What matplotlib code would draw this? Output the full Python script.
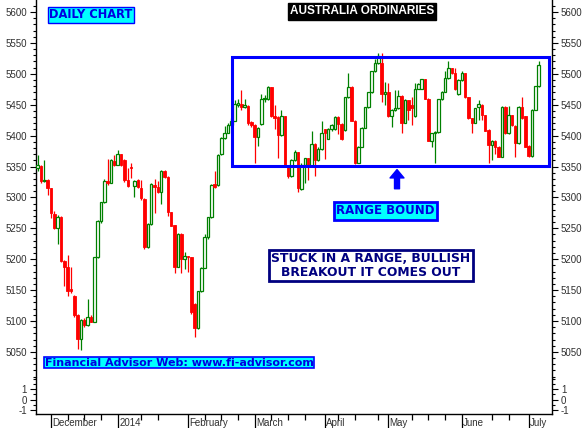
import numpy as np
import pandas as pd
import matplotlib
matplotlib.use("Agg")
import matplotlib.pyplot as plt
import matplotlib.transforms as mtransforms
from matplotlib.patches import Rectangle
from matplotlib.ticker import MultipleLocator, FixedLocator, NullFormatter

plt.rcParams['font.family'] = ['Liberation Sans', 'DejaVu Sans']
plt.rcParams['axes.unicode_minus'] = False

# ASX trading days shown on the chart
holidays = ['2013-12-25', '2013-12-26', '2014-01-01', '2014-01-27',
            '2014-04-18', '2014-04-21', '2014-04-25', '2014-06-09']
dates = pd.bdate_range('2013-11-26', '2014-07-04')
dates = dates[~dates.isin(pd.to_datetime(holidays))]

month_labels = ['December', '2014', 'February', 'March', 'April', 'May', 'June', 'July']

# daily OHLC
opens = [5347, 5351, 5326, 5328, 5315, 5273, 5250, 5269, 5197, 5187,
         5151, 5141, 5110, 5071, 5102, 5093, 5107, 5099, 5203, 5262,
         5292, 5327, 5324, 5359, 5353, 5370, 5361, 5328, 5350, 5319,
         5328, 5316, 5298, 5219, 5257, 5320, 5317, 5308, 5343, 5333,
         5276, 5255, 5188, 5241, 5200, 5205, 5203, 5128, 5088, 5148,
         5186, 5236, 5268, 5322, 5320, 5371, 5396, 5405, 5417, 5424,
         5449, 5451, 5446, 5448, 5422, 5417, 5397, 5419, 5459, 5459,
         5478, 5431, 5430, 5401, 5431, 5351, 5335, 5360, 5373, 5313,
         5353, 5363, 5351, 5387, 5360, 5378, 5410, 5395, 5410, 5410,
         5430, 5419, 5409, 5462, 5479, 5424, 5356, 5382, 5413, 5446,
         5470, 5504, 5518, 5518, 5468, 5471, 5431, 5441, 5444, 5464,
         5421, 5457, 5450, 5431, 5476, 5476, 5491, 5460, 5392, 5404,
         5406, 5459, 5471, 5493, 5509, 5501, 5467, 5490, 5501, 5462,
         5428, 5421, 5446, 5450, 5433, 5409, 5385, 5392, 5382, 5366,
         5447, 5404, 5433, 5416, 5388, 5447, 5431, 5383, 5367, 5442,
         5480]
highs = [5369, 5353, 5361, 5329, 5316, 5278, 5272, 5270, 5198, 5207,
         5188, 5142, 5111, 5103, 5105, 5136, 5110, 5204, 5263, 5293,
         5329, 5362, 5362, 5369, 5377, 5371, 5362, 5347, 5355, 5328,
         5329, 5328, 5299, 5258, 5323, 5329, 5327, 5344, 5344, 5334,
         5277, 5256, 5242, 5242, 5211, 5206, 5204, 5129, 5149, 5187,
         5240, 5269, 5321, 5343, 5370, 5397, 5415, 5421, 5428, 5458,
         5460, 5474, 5459, 5450, 5424, 5419, 5414, 5467, 5465, 5480,
         5479, 5450, 5431, 5441, 5432, 5352, 5362, 5377, 5374, 5355,
         5364, 5364, 5407, 5388, 5382, 5424, 5411, 5412, 5419, 5431,
         5431, 5420, 5463, 5501, 5480, 5425, 5383, 5414, 5447, 5471,
         5505, 5524, 5534, 5533, 5487, 5485, 5443, 5474, 5473, 5465,
         5459, 5458, 5462, 5485, 5485, 5492, 5492, 5461, 5405, 5407,
         5460, 5472, 5505, 5521, 5510, 5509, 5492, 5505, 5502, 5463,
         5429, 5445, 5457, 5451, 5434, 5410, 5393, 5393, 5383, 5448,
         5448, 5448, 5434, 5417, 5448, 5463, 5432, 5384, 5443, 5481,
         5521]
lows = [5342, 5324, 5325, 5304, 5266, 5249, 5224, 5196, 5157, 5140,
        5145, 5107, 5054, 5053, 5091, 5092, 5098, 5098, 5202, 5259,
        5291, 5320, 5323, 5351, 5352, 5351, 5325, 5317, 5331, 5301,
        5316, 5296, 5217, 5218, 5256, 5274, 5307, 5290, 5332, 5270,
        5253, 5177, 5187, 5177, 5184, 5180, 5112, 5074, 5087, 5147,
        5185, 5232, 5267, 5316, 5318, 5368, 5395, 5404, 5416, 5423,
        5446, 5441, 5444, 5417, 5414, 5356, 5383, 5417, 5455, 5457,
        5430, 5411, 5364, 5400, 5350, 5331, 5333, 5359, 5309, 5312,
        5323, 5328, 5350, 5334, 5359, 5377, 5362, 5394, 5408, 5409,
        5403, 5393, 5408, 5461, 5423, 5354, 5355, 5381, 5412, 5445,
        5469, 5503, 5516, 5455, 5450, 5430, 5414, 5440, 5443, 5404,
        5420, 5425, 5417, 5430, 5475, 5475, 5459, 5391, 5382, 5356,
        5405, 5458, 5470, 5492, 5500, 5474, 5466, 5489, 5461, 5427,
        5404, 5420, 5425, 5425, 5407, 5356, 5360, 5370, 5365, 5365,
        5403, 5403, 5416, 5365, 5387, 5427, 5381, 5366, 5366, 5441,
        5479]
closes = [5352, 5326, 5328, 5315, 5274, 5250, 5269, 5197, 5187, 5148,
          5148, 5109, 5071, 5102, 5093, 5106, 5099, 5203, 5262, 5292,
          5326, 5323, 5361, 5352, 5371, 5352, 5328, 5319, 5347, 5327,
          5317, 5299, 5219, 5257, 5322, 5317, 5308, 5343, 5333, 5276,
          5254, 5188, 5241, 5200, 5206, 5203, 5114, 5088, 5148, 5186,
          5236, 5268, 5320, 5317, 5369, 5396, 5405, 5417, 5424, 5451,
          5453, 5446, 5450, 5421, 5417, 5398, 5412, 5459, 5461, 5478,
          5432, 5428, 5401, 5431, 5351, 5335, 5360, 5373, 5315, 5353,
          5363, 5351, 5387, 5360, 5378, 5404, 5404, 5410, 5417, 5430,
          5419, 5394, 5462, 5479, 5424, 5355, 5382, 5413, 5446, 5470,
          5504, 5517, 5528, 5468, 5471, 5431, 5441, 5444, 5464, 5421,
          5458, 5441, 5445, 5476, 5483, 5491, 5460, 5392, 5404, 5406,
          5459, 5471, 5493, 5509, 5501, 5475, 5490, 5501, 5462, 5428,
          5421, 5444, 5451, 5433, 5408, 5385, 5392, 5381, 5366, 5447,
          5404, 5433, 5417, 5388, 5447, 5428, 5382, 5367, 5442, 5480,
          5514]

W, H = 588, 428


def fx(px):
    return px / W


def fy(py):
    return 1 - py / H


fig = plt.figure(figsize=(W / 100, H / 100), dpi=100)
ax = fig.add_axes([fx(36), fy(378), fx(552) - fx(36), fy(0) - fy(378)])
ax2 = fig.add_axes([fx(36), fy(414), fx(552) - fx(36), fy(378) - fy(414)], sharex=ax)

x = np.arange(len(closes))
o = np.array(opens)
c = np.array(closes)
up = c >= o
cols = np.where(up, '#008000', '#ff0000')

ax.vlines(x, lows, highs, colors=cols, lw=0.9, zorder=2)
bw = 0.76
for i in x:
    lo, hi = min(o[i], c[i]), max(o[i], c[i])
    if up[i]:
        ax.add_patch(Rectangle((i - bw / 2, lo), bw, max(hi - lo, 0.8),
                               facecolor='white', edgecolor='#008000', lw=0.9, zorder=3))
    else:
        ax.add_patch(Rectangle((i - bw / 2, lo), bw, max(hi - lo, 0.8),
                               facecolor='#ff0000', edgecolor='#ff0000', lw=0.6, zorder=3))

ax.set_xlim(-0.48, 154.0)
ax.set_ylim(5007.8, 5619.4)
ax2.set_ylim(-1.38, 2.05)

for a in (ax, ax2):
    for s in a.spines.values():
        s.set_color('black')
        s.set_linewidth(1)
    a.tick_params(axis='y', which='both', left=True, right=True,
                  labelleft=True, labelright=True, direction='out',
                  labelsize=7, labelcolor='#303030', pad=2.5)
    a.tick_params(axis='y', which='major', length=4, width=0.8)
    a.tick_params(axis='y', which='minor', length=2, width=0.8)

ax.spines['top'].set_visible(False)
ax.spines['bottom'].set_visible(False)
ax2.spines['top'].set_visible(False)
ax.yaxis.set_major_locator(MultipleLocator(50))
ax.yaxis.set_minor_locator(MultipleLocator(10))
ax.tick_params(axis='x', which='both', bottom=False, labelbottom=False)

ax2.set_yticks([-1, 0, 1])
ax2.yaxis.set_minor_locator(MultipleLocator(0.5))

# month ticks (long) and weekly ticks (short)
month_idx = [i for i in range(1, len(dates)) if dates[i].month != dates[i - 1].month]
week_idx = [i for i in range(len(dates)) if dates[i].weekday() == 0
            and min(abs(i - m) for m in month_idx) > 2]
ax2.xaxis.set_major_locator(FixedLocator(month_idx))
ax2.xaxis.set_minor_locator(FixedLocator(week_idx))
ax2.xaxis.set_major_formatter(NullFormatter())
ax2.tick_params(axis='x', which='major', length=11, width=0.9, direction='out')
ax2.tick_params(axis='x', which='minor', length=4, width=0.9, direction='out')

trans = mtransforms.blended_transform_factory(ax2.transData, ax2.transAxes)
for m, lab in zip(month_idx, month_labels):
    ax2.text(m + 0.4, -0.25, lab, transform=trans, fontsize=7, color='#303030',
             ha='left', va='center')

# range box and arrow
ax.add_patch(Rectangle((58.2, 5351), 153.1 - 58.2, 5527 - 5351, fill=False,
                       edgecolor='#0000ff', lw=2.2, zorder=4))
ax.annotate('', xy=(107.6, 5345), xytext=(107.6, 5314),
            arrowprops=dict(width=3.6, headwidth=10, headlength=6,
                            color='#0000ff', shrink=0))

# labels
lab_font = ['DejaVu Sans']
fig.text(fx(91), fy(15), 'DAILY CHART', fontsize=8.3, fontweight='bold', family=lab_font,
         color='#0000e0', ha='center', va='center',
         bbox=dict(boxstyle='square,pad=0.1', fc='#00ffff', ec='#0000ff', lw=1))
fig.text(fx(362), fy(11.5), 'AUSTRALIA ORDINARIES', fontsize=8.5, fontweight='bold',
         color='white', ha='center', va='center',
         bbox=dict(boxstyle='square,pad=0.2', fc='black', ec='black', lw=1))
fig.text(fx(385.5), fy(211), 'RANGE BOUND', fontsize=8.5, fontweight='bold', family=lab_font,
         color='#0000e0', ha='center', va='center',
         bbox=dict(boxstyle='square,pad=0.18', fc='#00ffff', ec='#0000ff', lw=2))
fig.text(fx(371), fy(265.5), 'STUCK IN A RANGE, BULLISH\nBREAKOUT IT COMES OUT',
         fontsize=8.9, fontweight='bold', family=lab_font, color='#000080',
         ha='center', va='center', linespacing=1.05,
         bbox=dict(boxstyle='square,pad=0.2', fc='white', ec='#000080', lw=2))
fig.text(fx(179), fy(362.5), 'Financial Advisor Web: www.fi-advisor.com', fontsize=8.0,
         fontweight='bold', family=lab_font, color='#0000e0', ha='center', va='center',
         bbox=dict(boxstyle='square,pad=0.06', fc='#00ffff', ec='#0000ff', lw=1.2))

fig.savefig('out.png', dpi=100)
